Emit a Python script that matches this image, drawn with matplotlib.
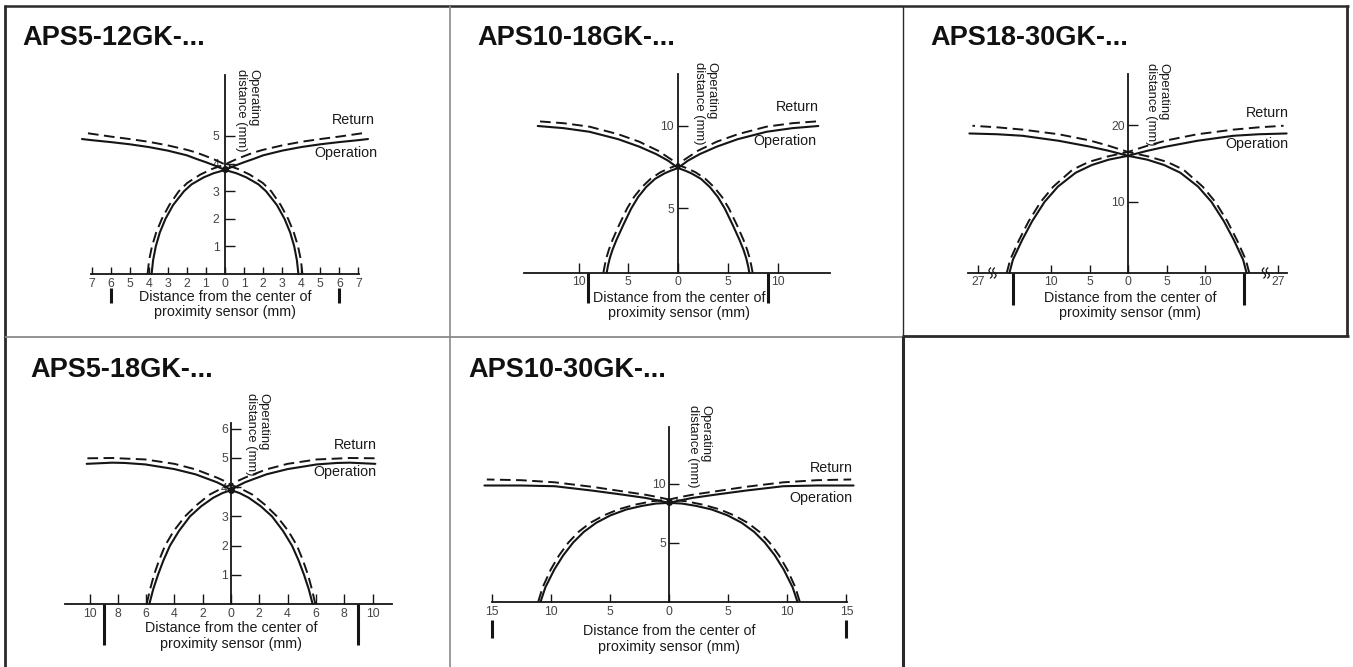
import matplotlib
matplotlib.use('Agg')
import matplotlib.pyplot as plt
from matplotlib.lines import Line2D
import numpy as np

W, H, DPI = 1353, 667, 100
plt.rcParams['font.family'] = ['Liberation Sans', 'DejaVu Sans']

# ---------------- data ----------------
titles = ['APS5-12GK-...', 'APS10-18GK-...', 'APS18-30GK-...',
          'APS5-18GK-...', 'APS10-30GK-...']

# Operation (solid) curve: from left ground through centre to right top;
# the second solid curve is its mirror image. Same for Return (dashed).
p1_op_x = [-3.85, -3.77, -3.63, -3.42, -3.12, -2.72, -2.15, -1.75, -1.12, -0.60, 0.00,
           0.50, 1.00, 1.50, 2.00, 3.00, 4.00, 5.00, 6.00, 7.00, 7.50]
p1_op_y = [0.00, 0.50, 1.00, 1.50, 2.00, 2.50, 3.00, 3.25, 3.50, 3.65, 3.77,
           3.92, 4.05, 4.17, 4.30, 4.47, 4.60, 4.70, 4.78, 4.85, 4.89]
p1_rt_x = [-4.06, -3.98, -3.83, -3.61, -3.31, -2.92, -2.42, -1.98, -1.30, -0.70, 0.00,
           0.50, 1.00, 1.50, 2.00, 3.00, 4.00, 5.00, 6.00, 7.20]
p1_rt_y = [0.00, 0.50, 1.00, 1.50, 2.00, 2.50, 3.00, 3.30, 3.60, 3.80, 3.97,
           4.13, 4.27, 4.40, 4.50, 4.66, 4.79, 4.89, 4.98, 5.10]

p2_op_x = [-7.17, -7.05, -6.85, -6.58, -6.18, -5.50, -4.70, -4.00, -3.20, -2.30, -1.35,
           -0.70, 0.00, 0.50, 1.00, 2.20, 3.90, 6.00, 8.90, 11.50, 14.10]
p2_op_y = [1.10, 1.50, 2.00, 2.50, 3.10, 4.00, 5.00, 5.70, 6.30, 6.80, 7.13,
           7.30, 7.45, 7.68, 7.90, 8.30, 8.75, 9.20, 9.65, 9.87, 10.00]
p2_rt_x = [-7.50, -7.38, -7.20, -6.95, -6.58, -5.92, -5.12, -4.42, -3.62, -2.75, -1.75,
           -0.85, 0.00, 0.50, 1.00, 2.00, 3.90, 6.00, 8.90, 11.50, 14.40]
p2_rt_y = [1.10, 1.50, 2.00, 2.50, 3.10, 4.00, 5.00, 5.70, 6.30, 6.80, 7.20,
           7.45, 7.64, 7.90, 8.10, 8.50, 9.05, 9.50, 9.96, 10.17, 10.30]

p3_op_x = [-15.40, -14.95, -13.75, -12.45, -10.85, -9.10, -6.80, -4.70, -2.50, 0.00,
           2.50, 5.00, 9.00, 13.70, 17.00, 20.60]
p3_op_y = [0.78, 2.50, 5.06, 7.50, 10.00, 12.00, 13.80, 14.80, 15.50, 16.00,
           16.65, 17.20, 17.95, 18.60, 18.80, 18.90]
p3_rt_x = [-15.75, -15.30, -14.15, -12.90, -11.35, -9.70, -7.20, -5.10, -2.70, 0.00,
           2.50, 5.00, 9.00, 13.70, 17.00, 20.20]
p3_rt_y = [0.78, 2.50, 5.06, 7.50, 10.00, 12.00, 14.20, 15.20, 15.90, 16.50,
           17.30, 18.00, 18.80, 19.40, 19.70, 19.90]

p4_op_x = [-5.77, -5.50, -5.16, -4.77, -4.31, -3.68, -2.90, -2.10, -1.25, -0.60, 0.00,
           0.50, 1.00, 2.50, 4.00, 6.06, 7.50, 8.40, 10.20]
p4_op_y = [0.00, 0.50, 1.00, 1.50, 2.00, 2.50, 3.00, 3.35, 3.64, 3.80, 3.90,
           4.05, 4.17, 4.44, 4.62, 4.78, 4.83, 4.84, 4.80]
p4_rt_x = [-5.96, -5.72, -5.44, -5.08, -4.66, -4.05, -3.25, -2.40, -1.50, -0.70, 0.00,
           0.50, 1.00, 2.50, 4.00, 6.06, 8.40, 10.20]
p4_rt_y = [0.00, 0.50, 1.00, 1.50, 2.00, 2.50, 3.00, 3.40, 3.75, 3.95, 4.08,
           4.22, 4.33, 4.61, 4.80, 4.95, 5.00, 4.99]

p5_op_x = [-10.85, -10.45, -9.70, -8.95, -8.10, -7.20, -6.15, -4.95, -3.60, -2.30, -1.10,
           0.00, 1.00, 2.00, 4.03, 6.50, 9.66, 12.50, 15.60]
p5_op_y = [0.00, 1.20, 2.70, 3.90, 5.00, 5.90, 6.67, 7.30, 7.80, 8.10, 8.30,
           8.36, 8.58, 8.78, 9.07, 9.40, 9.77, 9.83, 9.83]
p5_rt_x = [-11.05, -10.68, -10.00, -9.30, -8.50, -7.65, -6.65, -5.50, -4.30, -2.90, -1.40,
           0.00, 1.00, 2.00, 4.03, 6.50, 9.66, 12.50, 15.40]
p5_rt_y = [0.00, 1.20, 2.70, 3.90, 5.00, 5.90, 6.67, 7.30, 7.80, 8.20, 8.50,
           8.64, 8.86, 9.05, 9.35, 9.72, 10.10, 10.28, 10.34]

# crossing point of the operation curves (shown as a dot in some panels)
cross_y = [3.80, None, None, 3.92, 8.40]

# sensor diameter marks (half width, mm)
sensor_half = [6, 9, 15, 9, 15]

x_ticks = [list(range(-7, 8)), [-10, -5, 0, 5, 10], [-19.5, -10, -5, 0, 5, 10, 19.5],
           list(range(-10, 11, 2)), [-15, -10, -5, 0, 5, 10, 15]]
x_ticklabels = [[str(abs(v)) for v in x_ticks[0]],
                [str(abs(v)) for v in x_ticks[1]],
                ['27', '10', '5', '0', '5', '10', '27'],
                [str(abs(v)) for v in x_ticks[3]],
                [str(abs(v)) for v in x_ticks[4]]]
y_ticks = [[1, 2, 3, 4, 5], [5, 10], [10, 20], [1, 2, 3, 4, 5, 6], [5, 10]]

curves = [(p1_op_x, p1_op_y, p1_rt_x, p1_rt_y), (p2_op_x, p2_op_y, p2_rt_x, p2_rt_y),
          (p3_op_x, p3_op_y, p3_rt_x, p3_rt_y), (p4_op_x, p4_op_y, p4_rt_x, p4_rt_y),
          (p5_op_x, p5_op_y, p5_rt_x, p5_rt_y)]

# ---------------- layout (pixels) ----------------
cfg = [
    dict(X0=225, sx=19.07, Y0=274, sy=27.6, base=0.0, xl=(-7.05, 7.05), yt=7.2,
         cell=(5, 6, 450, 336), bar=(-0.51, -1.05), ypad=4.0, xpad=2.6, tl=(5, 7)),
    dict(X0=678, sx=9.95, Y0=291, sy=16.5, base=1.1, xl=(-15.5, 15.3), yt=13.15,
         cell=(450, 6, 903, 336), bar=(1.1, -0.75), ypad=3.0, xpad=2.4, tl=(7, 7)),
    dict(X0=1128, sx=7.7, Y0=279, sy=7.7, base=0.78, xl=(-20.8, 20.6), yt=26.6,
         cell=(903, 6, 1348, 336), bar=(0.78, -3.38), ypad=2.0, xpad=2.4, tl=(6, 7)),
    dict(X0=231, sx=14.15, Y0=604, sy=29.2, base=0.0, xl=(-11.7, 11.4), yt=6.2,
         cell=(5, 336, 450, 667), bar=(0.0, -1.4), ypad=2.2, xpad=2.8, tl=(7, 7)),
    dict(X0=669, sx=11.83, Y0=601.5, sy=11.8, base=0.0, xl=(-15.0, 15.05), yt=14.8,
         cell=(450, 336, 903, 667), bar=(-1.57, -3.1), ypad=2.0, xpad=3.2, tl=(6, 7)),
]
title_pos = [(22, 45), (477, 45), (930, 45), (30, 377), (468, 377)]
xlabel_pos = [(225, 304.5), (679, 305.4), (1130, 305.4), (231.5, 636), (669, 639)]
ylabel_pos = [(247.5, 69), (705.5, 62), (1157.5, 63), (257.5, 393), (699.5, 405)]
ret_pos = [(375, 120), (819, 107), (1289, 113), (377, 445), (853, 468)]
op_pos = [(377.7, 153), (817, 141), (1288, 144), (376, 472), (853, 498)]

INK = '#151515'
fig = plt.figure(figsize=(W / DPI, H / DPI), dpi=DPI)
fig.patch.set_facecolor('white')


def fx(X):
    return X / W


def fy(Y):
    return 1 - Y / H


for i, c in enumerate(cfg):
    L, T, R, B = c['cell']
    ax = fig.add_axes([fx(L), fy(B), (R - L) / W, (B - T) / H])
    ax.set_xlim((L - c['X0']) / c['sx'], (R - c['X0']) / c['sx'])
    ax.set_ylim((c['Y0'] - B) / c['sy'], (c['Y0'] - T) / c['sy'])
    ax.patch.set_visible(False)
    for s in ('top', 'right'):
        ax.spines[s].set_visible(False)
    ax.spines['bottom'].set_position(('data', c['base']))
    ax.spines['bottom'].set_bounds(*c['xl'])
    ax.spines['left'].set_position(('data', 0))
    ax.spines['left'].set_bounds(c['base'], c['yt'])
    for s in ('bottom', 'left'):
        ax.spines[s].set_linewidth(1.3)
        ax.spines[s].set_color(INK)
    ax.set_xticks(x_ticks[i], x_ticklabels[i])
    ax.set_yticks(y_ticks[i], [str(v) for v in y_ticks[i]])
    ax.tick_params(axis='x', direction='in', length=c['tl'][0], width=1.0, color=INK,
                   pad=c['xpad'], labelsize=8.8, labelcolor='#444444')
    ax.tick_params(axis='y', direction='in', length=c['tl'][1], width=1.0, color=INK,
                   pad=c['ypad'], labelsize=8.8, labelcolor='#444444')

    ox, oy, rx, ry = curves[i]
    ox = np.array(ox); rx = np.array(rx)
    for sgn in (1, -1):
        ax.plot(sgn * ox, oy, color=INK, lw=1.5, clip_on=False,
                solid_capstyle='round', solid_joinstyle='round')
        ax.plot(sgn * rx, ry, color=INK, lw=1.4, ls=(0, (5.5, 2.8)), clip_on=False)

    if cross_y[i] is not None:
        ax.plot([0], [cross_y[i]], 'o', color=INK, ms=4, clip_on=False)

    h = sensor_half[i]
    for sgn in (-1, 1):
        ax.plot([sgn * h, sgn * h], list(c['bar']), color=INK, lw=2.2, clip_on=False,
                solid_capstyle='butt')

    if i == 2:
        # axis break marks
        t = np.linspace(0, 1, 30)
        hh = 10 / c['sy']
        ww = 1.6 / c['sx']
        for xc in (-17.6, 17.9):
            for dx in (-0.25, 0.25):
                ax.plot(xc + dx + ww * np.sin(2 * np.pi * t), c['base'] - hh / 2 + hh * t,
                        color=INK, lw=0.9, clip_on=False)

    fig.text(fx(title_pos[i][0]), fy(title_pos[i][1]), titles[i], fontsize=19.5,
             fontweight='bold', color='#111', ha='left', va='baseline')
    fig.text(fx(xlabel_pos[i][0]), fy(xlabel_pos[i][1]),
             'Distance from the center of\nproximity sensor (mm)', fontsize=10.3,
             color='#1a1a1a', ha='center', va='center', multialignment='center',
             linespacing=1.1)
    fig.text(fx(ylabel_pos[i][0]), fy(ylabel_pos[i][1]), 'Operating\ndistance (mm)',
             fontsize=9.4, color='#1a1a1a', rotation=270, ha='center', va='top',
             multialignment='left', linespacing=1.05)
    fig.text(fx(ret_pos[i][0]), fy(ret_pos[i][1]), 'Return', fontsize=10.3,
             color='#1a1a1a', ha='right', va='center')
    fig.text(fx(op_pos[i][0]), fy(op_pos[i][1]), 'Operation', fontsize=10.3,
             color='#1a1a1a', ha='right', va='center')

# ---------------- cell borders ----------------


def hline(y, x0, x1, lw, col):
    fig.add_artist(Line2D([fx(x0), fx(x1)], [fy(y), fy(y)], lw=lw, color=col,
                          solid_capstyle='butt'))


def vline(x, y0, y1, lw, col):
    fig.add_artist(Line2D([fx(x), fx(x)], [fy(y0), fy(y1)], lw=lw, color=col,
                          solid_capstyle='butt'))


DARK = '#2a2a2a'
GREY = '#8a8a8a'
vline(5, 4.8, 667, 2.0, DARK)
hline(6, 4.0, 1348.8, 1.8, DARK)
vline(1346.5, 4.8, 336.5, 2.0, DARK)
hline(335.5, 902, 1348.8, 2.0, DARK)
hline(337, 5, 902, 1.3, GREY)
vline(450, 6, 667, 1.2, GREY)
vline(903, 6, 336, 1.0, DARK)
vline(902.5, 336, 667, 2.2, DARK)

fig.savefig('out.png', dpi=DPI)
